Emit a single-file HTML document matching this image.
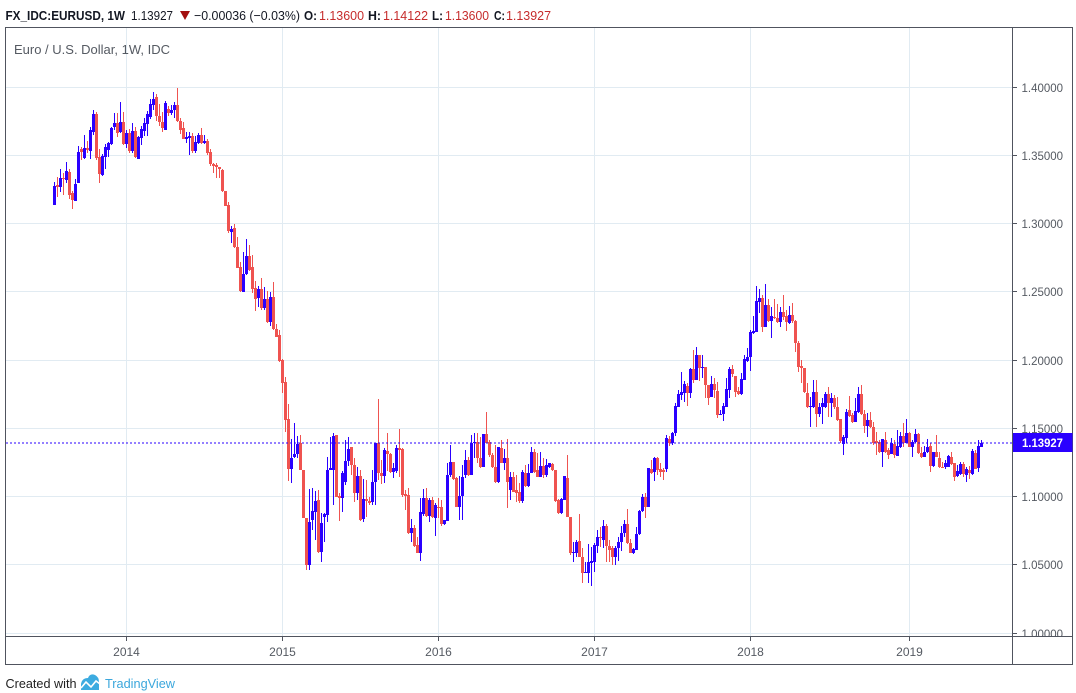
<!DOCTYPE html>
<html><head><meta charset="utf-8">
<style>
html,body{margin:0;padding:0;background:#fff;}
body{width:1076px;height:693px;overflow:hidden;}
svg{display:block;font-family:"Liberation Sans",sans-serif;}
</style></head><body>
<svg id="c" width="1076" height="693" viewBox="0 0 1076 693" xmlns="http://www.w3.org/2000/svg">
<rect width="1076" height="693" fill="#fff"/>
<!-- header -->
<text x="5.5" y="20" font-size="13" font-weight="bold" fill="#131722" textLength="119.5" lengthAdjust="spacingAndGlyphs">FX_IDC:EURUSD, 1W</text>
<text x="131" y="20" font-size="13" fill="#131722" textLength="42" lengthAdjust="spacingAndGlyphs">1.13927</text>
<polygon points="180,11 190,11 185,20" fill="#a30f0f"/>
<text x="194" y="20" font-size="13" fill="#131722" textLength="106" lengthAdjust="spacingAndGlyphs">−0.00036 (−0.03%)</text>
<text x="304" y="20" font-size="13" font-weight="bold" fill="#131722" textLength="13" lengthAdjust="spacingAndGlyphs">O:</text>
<text x="319" y="20" font-size="13" fill="#c62c2c" textLength="45" lengthAdjust="spacingAndGlyphs">1.13600</text>
<text x="368" y="20" font-size="13" font-weight="bold" fill="#131722" textLength="13" lengthAdjust="spacingAndGlyphs">H:</text>
<text x="383" y="20" font-size="13" fill="#c62c2c" textLength="45" lengthAdjust="spacingAndGlyphs">1.14122</text>
<text x="432" y="20" font-size="13" font-weight="bold" fill="#131722" textLength="11" lengthAdjust="spacingAndGlyphs">L:</text>
<text x="445" y="20" font-size="13" fill="#c62c2c" textLength="44" lengthAdjust="spacingAndGlyphs">1.13600</text>
<text x="494" y="20" font-size="13" font-weight="bold" fill="#131722" textLength="11" lengthAdjust="spacingAndGlyphs">C:</text>
<text x="506" y="20" font-size="13" fill="#c62c2c" textLength="45" lengthAdjust="spacingAndGlyphs">1.13927</text>

<!-- grid -->
<g stroke="#e1ebf2" stroke-width="1" fill="none">
<line x1="6" y1="87.5" x2="1012" y2="87.5"/>
<line x1="6" y1="155.5" x2="1012" y2="155.5"/>
<line x1="6" y1="223.5" x2="1012" y2="223.5"/>
<line x1="6" y1="291.5" x2="1012" y2="291.5"/>
<line x1="6" y1="360.5" x2="1012" y2="360.5"/>
<line x1="6" y1="428.5" x2="1012" y2="428.5"/>
<line x1="6" y1="496.5" x2="1012" y2="496.5"/>
<line x1="6" y1="564.5" x2="1012" y2="564.5"/>
<line x1="6" y1="633.5" x2="1012" y2="633.5"/>
<line x1="126.5" y1="28" x2="126.5" y2="636"/>
<line x1="282.5" y1="28" x2="282.5" y2="636"/>
<line x1="438.5" y1="28" x2="438.5" y2="636"/>
<line x1="594.5" y1="28" x2="594.5" y2="636"/>
<line x1="750.5" y1="28" x2="750.5" y2="636"/>
<line x1="909.5" y1="28" x2="909.5" y2="636"/>
</g>

<text x="14" y="54" font-size="13" fill="#555a62" textLength="156" lengthAdjust="spacingAndGlyphs">Euro / U.S. Dollar, 1W, IDC</text>

<g id="candles" shape-rendering="crispEdges"></g>

<line x1="6" y1="443" x2="1012" y2="443" stroke="#2a00ff" stroke-width="1" stroke-dasharray="2 2"/>

<!-- frame & axes -->
<g stroke="#50545e" stroke-width="1" fill="none">
<rect x="5.5" y="27.5" width="1067" height="637"/>
<line x1="1012.5" y1="27.5" x2="1012.5" y2="664.5"/>
<line x1="5.5" y1="636.5" x2="1072.5" y2="636.5"/>
<line x1="1012.5" y1="87.5" x2="1017" y2="87.5"/>
<line x1="1012.5" y1="155.5" x2="1017" y2="155.5"/>
<line x1="1012.5" y1="223.5" x2="1017" y2="223.5"/>
<line x1="1012.5" y1="291.5" x2="1017" y2="291.5"/>
<line x1="1012.5" y1="360.5" x2="1017" y2="360.5"/>
<line x1="1012.5" y1="428.5" x2="1017" y2="428.5"/>
<line x1="1012.5" y1="496.5" x2="1017" y2="496.5"/>
<line x1="1012.5" y1="564.5" x2="1017" y2="564.5"/>
<line x1="1012.5" y1="633.5" x2="1017" y2="633.5"/>
<line x1="126.5" y1="636.5" x2="126.5" y2="641"/>
<line x1="282.5" y1="636.5" x2="282.5" y2="641"/>
<line x1="438.5" y1="636.5" x2="438.5" y2="641"/>
<line x1="594.5" y1="636.5" x2="594.5" y2="641"/>
<line x1="750.5" y1="636.5" x2="750.5" y2="641"/>
<line x1="909.5" y1="636.5" x2="909.5" y2="641"/>
</g>

<defs><clipPath id="pc"><rect x="1013" y="28" width="59" height="608"/></clipPath></defs>
<g font-size="12" fill="#555a62" clip-path="url(#pc)">
<text x="1021.5" y="91.8" textLength="41.5" lengthAdjust="spacingAndGlyphs">1.40000</text>
<text x="1021.5" y="159.8" textLength="41.5" lengthAdjust="spacingAndGlyphs">1.35000</text>
<text x="1021.5" y="227.8" textLength="41.5" lengthAdjust="spacingAndGlyphs">1.30000</text>
<text x="1021.5" y="295.8" textLength="41.5" lengthAdjust="spacingAndGlyphs">1.25000</text>
<text x="1021.5" y="364.8" textLength="41.5" lengthAdjust="spacingAndGlyphs">1.20000</text>
<text x="1021.5" y="432.8" textLength="41.5" lengthAdjust="spacingAndGlyphs">1.15000</text>
<text x="1021.5" y="500.8" textLength="41.5" lengthAdjust="spacingAndGlyphs">1.10000</text>
<text x="1021.5" y="568.8" textLength="41.5" lengthAdjust="spacingAndGlyphs">1.05000</text>
<text x="1021.5" y="637.8" textLength="41.5" lengthAdjust="spacingAndGlyphs">1.00000</text>
</g>

<rect x="1013" y="433" width="59.5" height="19" fill="#2a00ff"/>
<text x="1042.5" y="447" font-size="12" font-weight="bold" fill="#fff" text-anchor="middle" textLength="41" lengthAdjust="spacingAndGlyphs">1.13927</text>

<g font-size="12" fill="#555a62" text-anchor="middle">
<text x="126.5" y="656">2014</text>
<text x="282.5" y="656">2015</text>
<text x="438.5" y="656">2016</text>
<text x="594.5" y="656">2017</text>
<text x="750.5" y="656">2018</text>
<text x="909.5" y="656">2019</text>
</g>

<!-- footer -->
<text x="5.5" y="688" font-size="13" fill="#222" textLength="71" lengthAdjust="spacingAndGlyphs">Created with</text>
<path d="M81 690 L81 684 Q82 678 88 678 Q90 673 95 675 Q99 677 99 682 L99 690 Z" fill="#3cabe0"/>
<polyline points="81,688 86,682 91,687 96,681 100,684" fill="none" stroke="#fff" stroke-width="1.6"/>
<text x="105" y="688" font-size="13" fill="#3ba7dc" textLength="70" lengthAdjust="spacingAndGlyphs">TradingView</text>
</svg>
<script>
(function(){
var A=[
[1,318,375,305,375],[0,316,320,290,352],[1,295,320,268,335],[0,293,298,278,345],[1,272,300,246,308],
[0,276,345,268,358],[0,340,360,333,387],[1,312,362,298,362],[1,216,308,198,308],[0,208,216,200,240],
[1,205,233,165,236],[0,204,210,183,218],[1,150,212,142,236],[1,102,155,90,165],[0,102,233,96,240],
[0,232,282,208,308],[1,228,285,222,288],[1,202,230,192,266],[1,190,210,185,230],[1,145,193,140,195],
[1,130,140,98,150],[0,130,158,100,172],[1,127,157,67,160],[0,127,193,96,195],[1,160,191,150,205],
[0,160,213,148,218],[1,153,213,130,220],[0,153,232,140,235],[1,172,236,168,236],[1,147,175,138,195],
[1,130,152,115,167],[1,102,133,93,167],[1,72,112,56,118],[1,58,75,37,90],[0,52,107,42,122],
[0,108,125,72,137],[0,125,143,96,155],[1,70,150,62,150],[0,88,100,77,107],[1,90,100,75,105],
[1,75,90,67,113],[0,75,124,24,125],[0,124,150,115,163],[0,145,176,127,177],[1,170,176,157,188],
[1,168,175,155,225],[0,168,213,158,220],[1,187,213,168,218],[1,165,190,160,192],[0,165,190,145,192],
[1,183,190,165,192],[0,183,218,178,226],[0,216,253,207,257],[0,252,257,248,278],[0,255,262,250,293],
[0,262,268,260,293],[0,270,333,268,335],[0,333,377,333,377],[0,375,452,366,458],[1,447,455,438,488],
[0,445,502,432,505],[0,502,563,471,565],[0,560,633,547,635],[1,582,635,516,635],[1,527,583,477,585],
[0,527,570,494,572],[0,562,628,525,640],[0,625,657,603,692],[1,627,655,617,680],[0,627,685,594,690],
[1,657,683,620,690],[0,657,725,634,730],[1,651,725,637,737],[0,651,748,606,750],[0,748,770,731,772],
[0,765,842,750,845],[0,840,908,838,938],[0,906,1020,890,1057],[0,1017,1168,972,1202],[1,1135,1168,1077,1208],
[1,1122,1130,1028,1135],[1,1093,1122,1068,1135]
];
var B=[
[0,160,240,135,240],[0,240,385,240,385],[0,385,525,385,540],[1,395,525,298,540],[1,363,390,295,420],
[1,333,367,303,450],[0,330,485,300,490],[1,398,485,370,515],[1,372,380,368,455],[1,240,375,200,395],
[1,235,240,140,240],[1,137,240,128,345],[0,135,320,135,322],[0,318,325,310,392],[1,250,325,243,365],
[1,213,275,150,285],[1,177,213,142,228],[0,172,225,170,255],[0,225,310,205,335],[1,258,310,232,330],
[0,258,390,240,392],[1,327,388,268,395],[0,327,333,270,380],[0,333,338,320,345],[1,277,335,240,345],
[1,160,277,160,345],[0,160,250,27,270],[0,250,258,210,282],[1,180,258,175,280],[0,183,193,128,243],
[0,193,245,190,250],[1,235,245,218,263],[1,175,243,165,250],[0,175,180,117,260],[0,178,315,175,320],
[0,313,318,300,360],[0,316,430,295,432],[1,413,428,388,455],[0,413,468,405,470],[0,465,490,440,490],
[1,367,490,325,512],[1,325,372,298,378],[0,325,378,293,382],[1,330,378,325,395],[0,330,380,320,385],
[1,345,383,340,437],[0,350,355,325,385],[0,352,403,330,408],[1,390,403,390,405],[1,255,392,218,392],
[1,215,255,165,260],[0,215,268,215,270],[0,265,350,260,352],[1,318,350,258,390],[1,260,318,225,390],
[1,210,255,180,265],[0,210,255,200,258],[1,160,255,135,255],[1,155,160,130,205],[0,155,205,130,220],
[0,205,232,140,235],[1,133,230,133,232],[0,133,158,66,160],[0,157,195,150,200],[0,195,230,190,235],
[0,230,275,165,278],[1,172,275,172,278],[0,175,218,150,220],[1,205,218,178,240],[0,205,275,148,353],
[1,262,300,245,330],[0,262,305,245,305],[0,300,310,255,335],[0,305,333,280,338],[1,246,333,240,340],
[0,248,288,225,292],[1,250,288,222,290],[1,186,250,170,250],[0,186,245,178,250],[0,240,260,190,262],
[1,228,260,185,262],[0,228,255,205,265],[1,225,255,208,260],[1,220,230,218,233],[0,222,240,220,242],
[0,240,333,240,335],[0,330,370,328,372],[1,327,370,323,373],[1,258,330,258,330],[0,265,380,195,382],
[0,380,490,380,495],[1,485,490,455,515],[1,455,488,450,500],[0,453,500,372,500],[0,500,548,475,578],
[1,545,548,515,550],[1,516,548,462,578],[1,513,520,470,588],[1,465,515,460,545],[1,440,468,420,490]
];
var C=[
[0,800,805,770,830],[1,768,810,750,835],[0,768,828,762,875],[0,828,840,810,875],[0,835,860,828,885],
[1,835,860,828,885],[1,815,835,800,872],[1,790,815,768,842],[1,762,790,750,800],[0,762,820,717,822],
[0,820,848,808,850],[1,838,848,835,852],[1,793,840,770,840],[1,723,793,720,795],[1,680,723,672,725],
[0,680,712,668,743],[1,593,712,593,712],[0,597,610,570,612],[1,565,607,560,632],[0,565,600,560,615],
[0,598,605,580,622],[0,600,605,593,630],[1,503,598,495,607],[0,508,520,498,527],[1,490,520,485,525],
[1,408,490,398,497],[1,372,410,360,412],[1,365,375,305,390],[1,342,368,333,395],[0,348,370,338,408],
[1,298,370,295,385],[0,298,330,240,340],[1,255,330,232,330],[0,255,295,255,333],[1,290,293,255,325],
[0,290,345,290,385],[0,345,383,345,405],[1,342,382,318,382],[0,342,360,325,385],[0,362,435,335,445],
[1,432,435,420,435],[1,408,432,400,452],[1,357,412,325,412],[1,297,360,290,385],[0,297,313,285,322],
[0,318,365,318,380],[0,362,373,350,375],[1,328,373,308,375],[1,268,330,255,330],[1,260,272,235,275],
[1,185,262,180,302],[1,183,190,138,192],[1,93,185,48,187],[1,85,95,58,130],[0,85,170,75,185],
[1,105,170,42,172],[0,105,152,88,155],[1,138,152,112,205],[0,140,145,88,148],[0,145,155,102,160]
];
var D=[
[1,127,155,110,170],[0,127,140,75,150],[0,137,155,120,182],[1,135,160,108,162],[0,135,153,98,160],
[0,153,220,150,245],[0,220,290,213,305],[0,288,295,270,340],[0,293,365,293,370],[0,368,412,338,415],
[1,408,412,380,470],[1,365,412,330,415],[0,365,432,330,470],[1,410,432,400,440],[1,400,412,385,462],
[1,372,412,365,415],[0,372,400,352,440],[1,385,400,370,440],[0,383,412,375,418],[0,410,450,380,452],
[0,448,513,448,520],[1,500,523,495,555],[1,425,503,418,520],[0,420,438,378,440],[0,435,455,430,460],
[1,423,455,385,455],[1,372,425,350,430],[0,372,432,345,435],[0,432,468,420,490],[1,450,468,430,500],
[0,450,472,425,475],[0,470,518,455,525],[0,513,520,485,555],[0,515,545,510,548],[1,508,545,508,590],
[0,510,545,487,548],[0,540,555,535,568],[1,520,552,505,553],[0,522,555,510,565],[1,528,557,480,557],
[1,498,530,485,535],[0,498,520,458,530],[1,490,520,447,520],[0,490,530,487,532],[1,515,532,510,560],
[1,493,515,478,520],[0,493,550,490,552],[0,548,560,532,565],[1,545,560,528,562],[1,530,545,508,548],
[0,528,587,520,605],[1,547,587,545,592],[0,547,560,495,562],[0,565,592,545,595],[0,590,592,575,593],
[1,578,590,570,596],[1,558,590,555,592],[0,560,582,545,585],[0,580,620,578,632],[1,602,617,585,622],
[1,583,612,575,615],[0,583,612,575,620],[1,598,615,590,635],[0,600,610,588,628],[1,543,612,537,615],
[0,548,597,540,598],[1,528,595,510,605],[1,518,531,510,531]
];
var segs=[[80,A],[390,B],[270,C],[270,D]];
var out='',i=0;
for(var s=0;s<segs.length;s++){
  var oy=segs[s][0],arr=segs[s][1];
  for(var k=0;k<arr.length;k++){
    var d=arr[k];
    var x=54.5+3*i;
    var col=d[0]?'#2a00ff':'#ef5350';
    var t=Math.round(oy+d[1]/3),b=Math.round(oy+d[2]/3),wt=Math.round(oy+Math.min(d[3],d[1])/3),wb=Math.round(oy+Math.max(d[4],d[2])/3);
    out+='<rect x="'+(x-0.5)+'" y="'+wt+'" width="1" height="'+Math.max(1,wb-wt)+'" fill="'+col+'"/>';
    out+='<rect x="'+(x-1.5)+'" y="'+t+'" width="3" height="'+Math.max(1,b-t)+'" fill="'+col+'"/>';
    i++;
  }
}
document.getElementById('candles').innerHTML=out;
})();
</script>
</body></html>
